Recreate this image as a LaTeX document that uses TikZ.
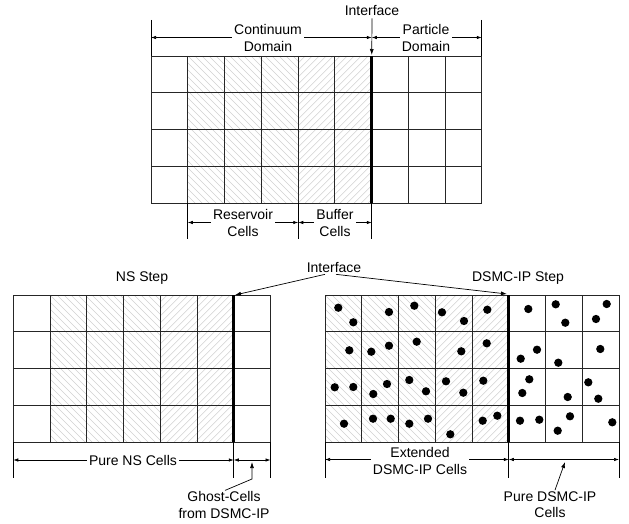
\documentclass[tikz,border=0pt]{standalone}
\usepackage{fontspec}
\setmainfont{Liberation Sans}
\usetikzlibrary{arrows.meta}
\newcommand{\hatchback}[4]{%
  \begin{scope}\clip (#1,#2) rectangle (#3,#4);
  \foreach \s in {-161,-154,...,130} \draw[hatch] (#1+\s,#2) -- ++(170,170);
  \end{scope}}
\newcommand{\hatchfwd}[4]{%
  \begin{scope}\clip (#1,#2) rectangle (#3,#4);
  \foreach \s in {0,7,...,290} \draw[hatch] (#1+\s,#2) -- ++(-170,170);
  \end{scope}}
\begin{document}
\begin{tikzpicture}[x=1pt,y=-1pt,
  lbl/.style={font=\fontsize{14}{16.5}\selectfont, align=center, inner sep=2pt},
  dimlbl/.style={lbl, fill=white},
  gridline/.style={line width=0.9pt, black!85},
  ifline/.style={line width=3pt, line cap=butt},
  hatch/.style={line width=0.45pt, black!18},
  ext/.style={line width=0.7pt},
  dim/.style={line width=0.7pt, {Latex[length=5pt,width=3.5pt]}-{Latex[length=5pt,width=3.5pt]}},
  arr/.style={line width=0.7pt, -{Latex[length=6pt,width=4pt]}},
  dot/.style={circle, fill=black, inner sep=0pt, minimum size=8.3pt},
]
\useasboundingbox (0,0) rectangle (629,524);

% ================= TOP DIAGRAM =================
\hatchback{188}{56}{298.25}{203}
\hatchfwd{298.25}{56}{371.75}{203}
\foreach \i in {0,...,9} \draw[gridline] (151+\i*36.75,56) -- (151+\i*36.75,203);
\foreach \j in {0,...,4} \draw[gridline] (151,56+\j*36.75) -- (481.75,56+\j*36.75);
\coordinate (tIfA) at (371.75,56);
\coordinate (tIfB) at (371.75,203);
\draw[ifline] (tIfA) -- (tIfB);

\node[lbl] (ifTop) at (372,11) {Interface};
\coordinate (tIfTip) at (371.75,55);
\draw[arr] (ifTop.south) -- (tIfTip);

\coordinate (eA1) at (151,20);    \coordinate (eA2) at (151,56);
\coordinate (eC1) at (481.75,20); \coordinate (eC2) at (481.75,56);
\draw[ext] (eA1) -- (eA2);
\draw[ext] (eC1) -- (eC2);
\coordinate (dA) at (151,37.5); \coordinate (dB) at (371.75,37.5); \coordinate (dC) at (481.75,37.5);
\draw[dim] (dA) -- (dB);
\draw[dim] (dB) -- (dC);
\node[dimlbl] (cont) at (268,38) {Continuum\\Domain};
\node[dimlbl] (part) at (426,38) {Particle\\Domain};

\coordinate (bR1) at (187.75,203);  \coordinate (bR2) at (187.75,239);
\coordinate (bB1) at (298.25,203);  \coordinate (bB2) at (298.25,239);
\coordinate (bI1) at (371.75,203);  \coordinate (bI2) at (371.75,239);
\draw[ext] (bR1) -- (bR2);
\draw[ext] (bB1) -- (bB2);
\draw[ext] (bI1) -- (bI2);
\coordinate (dR) at (187.75,222.5); \coordinate (dBf) at (298.25,222.5); \coordinate (dI) at (371.75,222.5);
\draw[dim] (dR) -- (dBf);
\draw[dim] (dBf) -- (dI);
\node[dimlbl] (res) at (243,223) {Reservoir\\Cells};
\node[dimlbl] (buf) at (335,223) {Buffer\\Cells};

% ================= BOTTOM LEFT (NS) =================
\node[lbl] (ns) at (142,278) {NS Step};
\hatchback{50}{295}{160.25}{442}
\hatchfwd{160.25}{295}{233.75}{442}
\foreach \i in {0,...,7} \draw[gridline] (13.25+\i*36.75,295) -- (13.25+\i*36.75,442);
\foreach \j in {0,...,4} \draw[gridline] (13.25,295+\j*36.75) -- (270.5,295+\j*36.75);
\coordinate (lIfA) at (233.75,295);
\coordinate (lIfB) at (233.75,442);
\draw[ifline] (lIfA) -- (lIfB);

\coordinate (lE1a) at (13.25,442);  \coordinate (lE1b) at (13.25,478);
\coordinate (lE2a) at (233.75,442); \coordinate (lE2b) at (233.75,478);
\coordinate (lE3a) at (270.5,442);  \coordinate (lE3b) at (270.5,478);
\draw[ext] (lE1a) -- (lE1b);
\draw[ext] (lE2a) -- (lE2b);
\draw[ext] (lE3a) -- (lE3b);
\coordinate (lD1) at (13.25,460); \coordinate (lD2) at (233.75,460); \coordinate (lD3) at (270.5,460);
\draw[dim] (lD1) -- (lD2);
\draw[dim] (lD2) -- (lD3);
\node[dimlbl] (pns) at (133,460) {Pure NS Cells};

\node[lbl] (ghost) at (224,505) {Ghost-Cells\\from DSMC-IP};
\coordinate (gK) at (252,479);
\coordinate (gT) at (252,462);
\draw[arr] ([xshift=1pt,yshift=-1pt]ghost.north) -- (gK) -- (gT);

% ================= BOTTOM RIGHT (DSMC-IP) =================
\node[lbl] (dsmc) at (518,278) {DSMC-IP Step};
\hatchback{325}{295}{435.25}{442}
\hatchfwd{435.25}{295}{508.75}{442}
\foreach \i in {0,...,8} \draw[gridline] (325+\i*36.75,295) -- (325+\i*36.75,442);
\foreach \j in {0,...,4} \draw[gridline] (325,295+\j*36.75) -- (619,295+\j*36.75);
\coordinate (rIfA) at (508.75,295);
\coordinate (rIfB) at (508.75,442);
\draw[ifline] (rIfA) -- (rIfB);

\foreach \px/\py in {
  338.3/307.7, 353.3/322.3, 389/312, 414.3/305.7, 442/312.3, 464/321,
  487.3/309.7, 528.3/309, 555.7/304.3, 565.3/322.7, 606.7/304, 596/319,
  349.3/350.3, 371.3/351.7, 389/345.7, 416.7/341.7, 461.3/351.3,
  486.7/343.3, 537/349.7, 520.7/358.7, 558.3/362.7, 600.3/349,
  334.7/387.3, 353.3/387, 373.3/394, 387/384, 409.3/380, 426/391.3, 446/381.3, 463.3/392.7,
  483.3/380.7, 529.3/379.3, 522.3/393, 567.7/397, 588.3/382.3, 598.3/398.7,
  344/423.7, 373/418.7, 390.7/418.7, 409.3/423.7, 428/418.7, 450.3/434.3,
  482.7/420.7, 497.3/415.7, 520/420.7, 539.3/419.7, 570/416.3, 557.7/430.7, 612.3/422.3}
  \node[dot] at (\px,\py) {};

\coordinate (rE1a) at (325,442);    \coordinate (rE1b) at (325,478);
\coordinate (rE2a) at (508.75,442); \coordinate (rE2b) at (508.75,478);
\coordinate (rE3a) at (619,442);    \coordinate (rE3b) at (619,478);
\draw[ext] (rE1a) -- (rE1b);
\draw[ext] (rE2a) -- (rE2b);
\draw[ext] (rE3a) -- (rE3b);
\coordinate (rD1) at (325,459.5); \coordinate (rD2) at (508.75,459.5); \coordinate (rD3) at (619,459.5);
\draw[dim] (rD1) -- (rD2);
\draw[dim] (rD2) -- (rD3);
\node[dimlbl] (ext) at (420,461) {Extended\\DSMC-IP Cells};

\node[lbl] (pure) at (550,504.5) {Pure DSMC-IP\\Cells};
\coordinate (pT) at (565,462);
\draw[arr] ([xshift=5pt,yshift=-1pt]pure.north) -- (pT);

% ================= Interface (bottom) =================
\node[lbl] (ifBot) at (334,268) {Interface};
\coordinate (lIfTip) at (235,295);
\coordinate (rIfTip) at (507,294);
\draw[arr] ([xshift=-9pt,yshift=1pt]ifBot.south) -- (lIfTip);
\draw[arr] ([xshift=2pt,yshift=1pt]ifBot.south) -- (rIfTip);
\end{tikzpicture}
\end{document}
